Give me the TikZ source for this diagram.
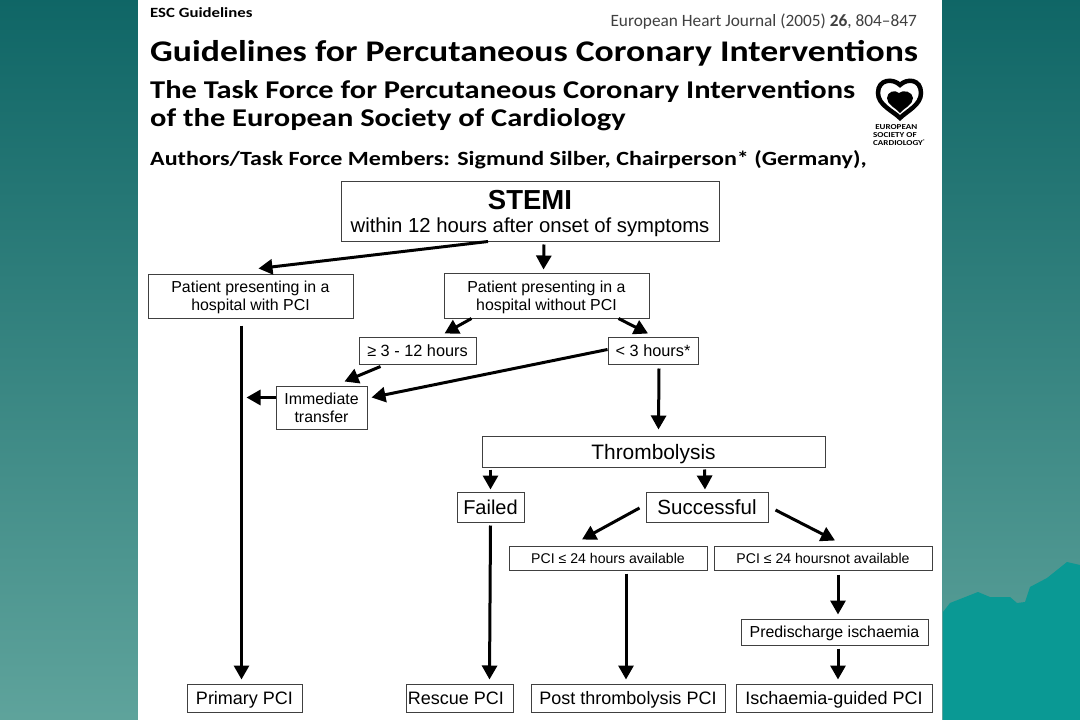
\documentclass[tikz,border=0pt]{standalone}
\usepackage{fontspec}
\setmainfont{Liberation Sans}
\newfontfamily\headfont[FakeStretch=1.19]{Carlito}
\newfontfamily\plainfont{Carlito}
\usetikzlibrary{arrows.meta}
\definecolor{tealtop}{rgb}{0.06, 0.40, 0.40}
\definecolor{tealbottom}{rgb}{0.37, 0.64, 0.61}
\definecolor{tealhill}{rgb}{0.04, 0.60, 0.58}
\newcommand{\fsize}[1]{\fontsize{#1}{#1}\selectfont}
\tikzset{
  box/.style={draw=black!75, line width=1pt, fill=white, inner sep=0pt, align=center, text depth=0pt},
  oneline/.style={text height=#1*0.72pt, font=\fsize{#1}},
  flow/.style={-{Triangle[length=14pt,width=15pt]}, line width=3pt, black},
  headtext/.style={anchor=base west, inner sep=0pt},
}

\begin{document}
\begin{tikzpicture}[x=1pt, y=-1pt]
% slide background
\useasboundingbox (0,0) rectangle (1080,720);
\fill[top color=tealtop, bottom color=tealbottom] (0,0) rectangle (1080,720);
\fill[tealhill] (943,612) -- (950,603) -- (978,592) -- (990,597) -- (1010,597) -- (1017,603) -- (1025,602) -- (1030,587) -- (1047,578) -- (1067,562) -- (1080,565) -- (1080,720) -- (943,720) -- cycle;
\fill[white] (138,0) rectangle (942,720);
% title block
\node[headtext, font=\headfont\bfseries\fsize{14.1}] (esc) at (150,17) {ESC Guidelines};
\node[anchor=base east, inner sep=0pt, text=black!75, font=\plainfont\fsize{17.3}] (ehj) at (917,27) {European Heart Journal (2005) \textbf{26}, 804–847};
\node[headtext, font=\headfont\bfseries\fsize{30}] (title) at (150,61) {Guidelines for Percutaneous Coronary Interventions};
\node[headtext, font=\headfont\bfseries\fsize{25.6}] (task) at (150,98) {The Task Force for Percutaneous Coronary Interventions};
\node[headtext, font=\headfont\bfseries\fsize{25.6}] (soc) at (150,126) {of the European Society of Cardiology};
\node[headtext, font=\headfont\bfseries\fsize{20.2}] (auth) at (150,165) {Authors/Task Force Members: Sigmund Silber, Chairperson* (Germany),};
% logo
\draw[line width=4.5pt] (900,85) .. controls (893,78) and (878,79) .. (878,93) .. controls (878,105) and (893,111) .. (900,118) .. controls (907,111) and (921,105) .. (921,93) .. controls (921,79) and (907,78) .. (900,85) -- cycle;
\fill (887,98) .. controls (887,92) and (895,89) .. (899,93) .. controls (903,89) and (913,92) .. (913,98) .. controls (913,105) and (904,108) .. (900,113) .. controls (896,108) and (887,105) .. (887,98) -- cycle;
\node[anchor=north west, inner sep=0pt, align=left, font=\headfont\bfseries\fsize{7.6}] (esclogo) at (873,124) {\ EUROPEAN\\[0.4pt]SOCIETY OF\\[0.4pt]CARDIOLOGY\textsuperscript{\fsize{4}®}};
% flow chart
\node[box, minimum width=378pt, minimum height=60pt] (stemi) at (530,211) {{\bfseries\fsize{27.5}STEMI}\\[7pt]{\fsize{20.3}within 12 hours after onset of symptoms}};
\node[box, minimum width=205pt, minimum height=44pt, font=\fsize{15.9}] (withpci) at (250.5,296) {Patient presenting in a\\[2pt]hospital with PCI};
\node[box, minimum width=205pt, minimum height=45pt, font=\fsize{15.9}] (withoutpci) at (546.5,295.5) {Patient presenting in a\\[2pt]hospital without PCI};
\node[box, oneline=16.3, minimum width=117pt, minimum height=27pt] (late) at (417.5,350.5) {≥ 3 - 12 hours};
\node[box, oneline=16.3, minimum width=90pt, minimum height=27pt] (early) at (653,350.5) {< 3 hours*};
\node[box, minimum width=91pt, minimum height=43pt, font=\fsize{15.9}] (transfer) at (321.5,407.5) {Immediate\\[2pt]transfer};
\node[box, oneline=20.9, minimum width=343pt, minimum height=31pt] (lysis) at (653.5,451.5) {Thrombolysis};
\node[box, oneline=20, minimum width=67pt, minimum height=30pt] (failed) at (490.5,507) {Failed};
\node[box, oneline=20.5, minimum width=122pt, minimum height=30pt] (success) at (707,507) {Successful};
\node[box, oneline=14.1, minimum width=198pt, minimum height=24pt] (avail) at (608,558) {PCI ≤ 24 hours available};
\node[box, oneline=14.1, minimum width=218pt, minimum height=24pt] (notavail) at (823,558) {PCI ≤ 24 hoursnot available};
\node[box, oneline=15.9, minimum width=187pt, minimum height=26pt] (pre) at (834.5,632) {Predischarge ischaemia};
\node[box, oneline=18, minimum width=115pt, minimum height=28pt] (primary) at (244.5,698) {Primary PCI};
\node[box, oneline=18, minimum width=107pt, minimum height=28pt] (rescue) at (459.5,698) {Rescue PCI\hspace*{7pt}};
\node[box, oneline=18, minimum width=194pt, minimum height=28pt] (post) at (628,698) {Post thrombolysis PCI};
\node[box, oneline=18, minimum width=196pt, minimum height=28pt] (guided) at (834,698) {Ischaemia-guided PCI};
% arrows
\draw[flow] ([xshift=-42pt]stemi.south) -- ([xshift=8pt,yshift=5pt]withpci.north);
\draw[flow] ([xshift=14pt,yshift=-3pt]stemi.south) -- ([xshift=-3pt,yshift=3pt]withoutpci.north);
\draw[flow] ([xshift=-75pt]withoutpci.south) -- ([xshift=27pt,yshift=3pt]late.north);
\draw[flow] ([xshift=72pt]withoutpci.south) -- ([xshift=-5pt,yshift=3pt]early.north);
\draw[flow] ([xshift=-37pt,yshift=-2pt]late.south) -- ([xshift=23pt,yshift=4pt]transfer.north);
\draw[flow] ([yshift=1pt]early.west) -- ([xshift=4pt,yshift=10pt]transfer.east);
\draw[flow] ([yshift=10pt]transfer.west) -- +(-29pt,0);
\draw[flow] ([xshift=-9pt,yshift=-7pt]withpci.south) -- ([xshift=-3pt,yshift=4pt]primary.north);
\draw[flow] ([xshift=6pt,yshift=-4pt]early.south) -- ([xshift=5pt,yshift=6pt]lysis.north);
\draw[flow] ([xshift=-163pt,yshift=-2pt]lysis.south) -- ([yshift=2pt]failed.north);
\draw[flow] ([xshift=51pt,yshift=-2pt]lysis.south) -- ([xshift=-2pt,yshift=2pt]success.north);
\draw[flow] ([xshift=-6pt,yshift=-1pt]success.west) -- ([xshift=-26pt,yshift=6pt]avail.north);
\draw[flow] ([xshift=7pt,yshift=-3pt]success.east) -- ([xshift=12pt,yshift=5pt]notavail.north);
\draw[flow] ([yshift=-3pt]failed.south) -- ([xshift=30pt,yshift=4pt]rescue.north);
\draw[flow] ([xshift=18pt,yshift=-3pt]avail.south) -- ([xshift=-2pt,yshift=4pt]post.north);
\draw[flow] ([xshift=15pt,yshift=-4pt]notavail.south) -- ([xshift=3.5pt,yshift=4pt]pre.north);
\draw[flow] ([xshift=3.5pt,yshift=-3pt]pre.south) -- ([xshift=4pt,yshift=4pt]guided.north);
\end{tikzpicture}
\end{document}
